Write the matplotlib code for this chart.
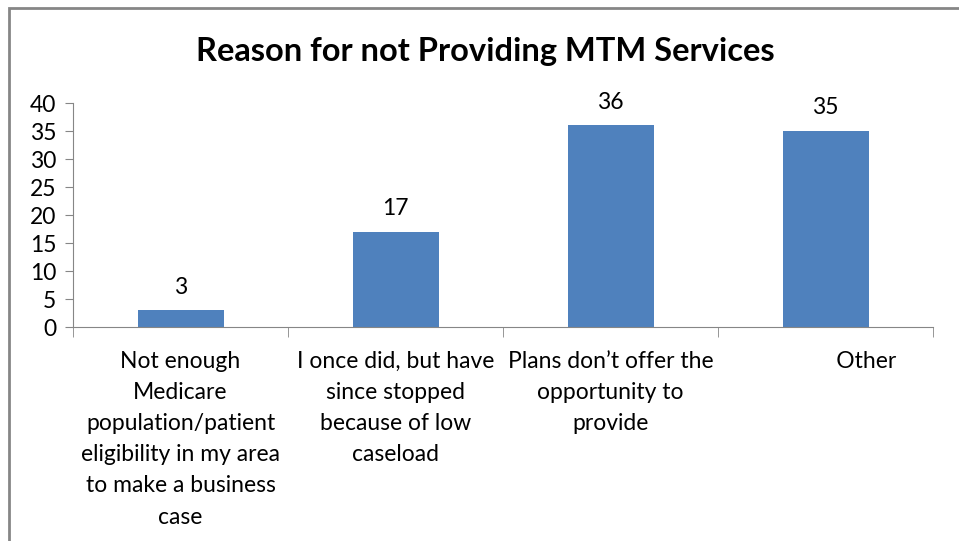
import numpy as np
import matplotlib.pyplot as plt
import matplotlib as mpl
from matplotlib.patches import Rectangle

mpl.rcParams['font.family'] = ['Lato', 'DejaVu Sans']
mpl.rcParams['font.size'] = 16.5

categories = ['Not enough\nMedicare\npopulation/patient\neligibility in my area\nto make a business\ncase',
              'I once did, but have\nsince stopped\nbecause of low\ncaseload',
              'Plans don\u2019t offer the\nopportunity to\nprovide',
              '              Other']
counts = [3, 17, 36, 35]

fig = plt.figure(figsize=(9.59, 5.41), dpi=100)
ax = fig.add_axes([73/959, 1 - 327/541, 860/959, 224/541])

x = np.arange(len(counts))
ax.bar(x, counts, width=0.4, color='#4F81BD', zorder=2)
for xi, v in zip(x, counts):
    ax.annotate(str(v), (xi, v), xytext=(0, 9), textcoords='offset points',
                ha='center', va='bottom')

ax.set_xlim(-0.5, len(counts) - 0.5)
ax.set_ylim(0, 40)
ax.set_yticks(range(0, 41, 5))
ax.set_xticks(x)
ax.set_xticklabels(categories, linespacing=1.6, va='top')
ax.set_xticks(np.arange(-0.5, len(counts), 1), minor=True)
ax.tick_params(axis='x', which='major', length=0, pad=17)
ax.tick_params(axis='x', which='minor', length=7, color='#868686', direction='out')
ax.tick_params(axis='y', length=6, color='#868686', pad=6)
for s in ['top', 'right']:
    ax.spines[s].set_visible(False)
for s in ['left', 'bottom']:
    ax.spines[s].set_color('#868686')

fig.text(485/959, 1 - 51/541, 'Reason for not Providing MTM Services',
         ha='center', va='center', fontsize=23.5, fontweight='bold')

# chart area border
fig.patches.append(Rectangle((9/959, -0.1), 1.1, 1 - 8/541 + 0.1, transform=fig.transFigure,
                             fill=False, edgecolor='#868686', linewidth=2))

fig.savefig('out.png', dpi=100)
